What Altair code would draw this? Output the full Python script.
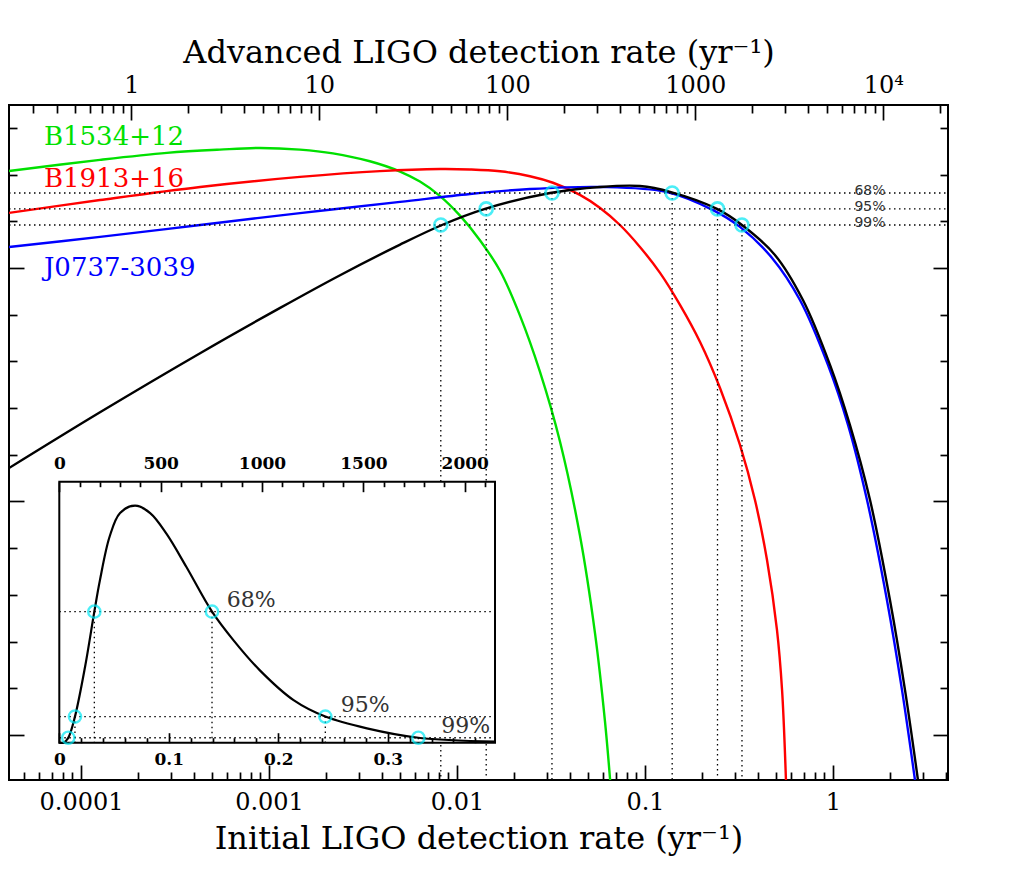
import altair as alt
import pandas as pd

# ---------------- data ----------------
# Main panel: x = initial LIGO detection rate (yr^-1), y = log-likelihood (arbitrary units)
green_rate = [4.14e-5, 1.262e-4, 2.864e-4, 5.48e-4, 8.95e-4, 1.462e-3, 2.188e-3, 3.44e-3,
              4.98e-3, 6.35e-3, 8.13e-3, 1.038e-2, 1.324e-2, 1.694e-2, 2.163e-2, 2.761e-2,
              3.532e-2, 4.508e-2, 5.42e-2, 6.12e-2, 6.59e-2]
green_logL = [2.415, 2.463, 2.493, 2.507, 2.514, 2.507, 2.491, 2.457,
              2.413, 2.370, 2.308, 2.224, 2.119, 1.988, 1.796, 1.556,
              1.256, 0.854, 0.436, 0.061, -0.236]

red_rate = [4.14e-5, 1.262e-4, 4.30e-4, 1.462e-3, 3.89e-3, 8.13e-3, 1.172e-2, 1.694e-2,
            2.443e-2, 3.24e-2, 4.508e-2, 5.77e-2, 7.36e-2, 9.40e-2, 0.1202, 0.1535, 0.1963,
            0.2506, 0.320, 0.3846, 0.4457, 0.5035, 0.5358, 0.562]
red_logL = [2.236, 2.291, 2.347, 2.390, 2.415, 2.424, 2.422, 2.414,
            2.393, 2.365, 2.313, 2.257, 2.184, 2.090, 1.979, 1.842, 1.683,
            1.486, 1.242, 1.006, 0.749, 0.450, 0.193, -0.193]

blue_rate = [4.14e-5, 1.262e-4, 4.30e-4, 1.462e-3, 4.98e-3, 1.172e-2, 2.443e-2, 5.77e-2,
             0.131, 0.230, 0.320, 0.474, 0.667, 0.940, 1.202, 1.517, 1.936, 2.328, 2.729]
blue_logL = [2.090, 2.133, 2.184, 2.235, 2.283, 2.317, 2.338, 2.347,
             2.325, 2.248, 2.176, 2.043, 1.863, 1.585, 1.328, 1.006, 0.578, 0.193, -0.193]

black_rate = [4.14e-5, 1.262e-4, 4.30e-4, 1.146e-3, 2.388e-3, 4.98e-3, 8.32e-3, 1.409e-2,
              3.126e-2, 5.77e-2, 9.40e-2, 0.1374, 0.2415, 0.328, 0.491, 0.692, 0.964, 1.230,
              1.574, 2.009, 2.415, 2.831]
black_logL = [1.143, 1.382, 1.635, 1.829, 1.969, 2.100, 2.184, 2.253,
              2.321, 2.347, 2.351, 2.325, 2.253, 2.184, 2.056, 1.863, 1.585, 1.328,
              1.006, 0.578, 0.193, -0.193]

# Confidence intervals
levels = ["68%", "95%", "99%"]
level_logL = [2.321, 2.253, 2.184]
lower_rate = [0.032, 0.0143, 0.0082]
upper_rate = [0.1395, 0.243, 0.328]
level_pdf = [0.502, 0.10, 0.019]

# Inset: probability density of the initial LIGO rate (normalised)
inset_rate = [0.0, 0.004, 0.0082, 0.0143, 0.0235, 0.032, 0.037, 0.046, 0.0555, 0.0692,
              0.083, 0.098, 0.116, 0.1395, 0.159, 0.183, 0.214, 0.243, 0.281, 0.328, 0.398]
inset_pdf = [0.0, 0.0, 0.019, 0.10, 0.29, 0.502, 0.62, 0.79, 0.88, 0.908,
             0.88, 0.80, 0.674, 0.502, 0.393, 0.278, 0.163, 0.10, 0.055, 0.019, 0.004]

pulsars = ["B1534+12", "B1913+16", "J0737-3039"]
pulsar_colors = ["#00e000", "#ff0000", "#0000ff"]
pulsar_label_rate = [6.35e-5, 6.35e-5, 6.35e-5]
pulsar_label_logL = [2.527, 2.347, 1.966]
pct_label_rate = [1.3, 1.3, 1.3]
inset_label_rate = [0.153, 0.257, 0.349]

ADV_PER_INIT = 5400.0
main_x_ticks = [1e-4, 1e-3, 1e-2, 1e-1, 1.0]
adv_x_ticks = [1.0, 10.0, 100.0, 1000.0, 10000.0]
inset_x_ticks = [0.0, 0.1, 0.2, 0.3]
inset_adv_ticks = [0, 500, 1000, 1500, 2000]

# ---------------- layout ----------------
W, H = 939, 675
X_DOMAIN = [4.14e-5, 4.09]
Y_DOMAIN = [-0.193, 2.698]
INSET_X_DOMAIN = [0.0, 0.398]
INSET_Y_DOMAIN = [0.0, 1.0]
INSET_X_RANGE = [50.3, 486.0]
INSET_Y_RANGE = [637.7, 376.7]
SERIF = "DejaVu Serif"
SANS = "DejaVu Sans"
CYAN = "#00e8f4"
INTERP = "catmull-rom"


def log_minors(lo, hi):
    out = []
    for k in range(-6, 6):
        for m in range(2, 10):
            v = m * 10.0 ** k
            if lo <= v <= hi:
                out.append(v)
    return out


def sx():
    return alt.Scale(type="log", domain=X_DOMAIN, nice=False)


def sadv():
    return alt.Scale(type="log", domain=[X_DOMAIN[0] * ADV_PER_INIT, X_DOMAIN[1] * ADV_PER_INIT], nice=False)


def sy():
    return alt.Scale(domain=Y_DOMAIN, nice=False, zero=False)


def ix():
    return alt.Scale(domain=INSET_X_DOMAIN, range=INSET_X_RANGE, nice=False, zero=False)


def iadv():
    return alt.Scale(domain=[0, INSET_X_DOMAIN[1] * ADV_PER_INIT], range=INSET_X_RANGE, nice=False, zero=False)


def iy():
    return alt.Scale(domain=INSET_Y_DOMAIN, range=INSET_Y_RANGE, nice=False, zero=False)


def neg(v):
    return alt.ExprRef(expr=str(-v))


def curve(rate, logl, color, width=2.4):
    df = pd.DataFrame({"rate": rate, "logL": logl})
    return alt.Chart(df).mark_line(color=color, strokeWidth=width, interpolate=INTERP, clip=True).encode(
        x=alt.X("rate:Q", scale=sx(), axis=None),
        y=alt.Y("logL:Q", scale=sy(), axis=None),
    )


layers = [
    curve(green_rate, green_logL, pulsar_colors[0]),
    curve(red_rate, red_logL, pulsar_colors[1]),
    curve(blue_rate, blue_logL, pulsar_colors[2]),
    curve(black_rate, black_logL, "black"),
]

DOT = [1.5, 3.5]
# horizontal dotted lines at the likelihood levels
hdf = pd.DataFrame({"x1": [X_DOMAIN[0]] * 3, "x2": [X_DOMAIN[1]] * 3, "logL": level_logL})
layers.append(alt.Chart(hdf).mark_rule(color="black", strokeWidth=1.3, strokeDash=DOT).encode(
    x=alt.X("x1:Q", scale=sx(), axis=None), x2="x2:Q",
    y=alt.Y("logL:Q", scale=sy(), axis=None)))

# vertical dotted lines from interval bounds
vdf = pd.DataFrame({"rate": lower_rate + upper_rate, "logL": level_logL + level_logL,
                    "bottom": [Y_DOMAIN[0]] * 6})
layers.append(alt.Chart(vdf).mark_rule(color="black", strokeWidth=1.3, strokeDash=DOT).encode(
    x=alt.X("rate:Q", scale=sx(), axis=None),
    y=alt.Y("logL:Q", scale=sy(), axis=None), y2="bottom:Q"))

layers.append(alt.Chart(vdf).mark_point(shape="circle", size=170, filled=False, stroke=CYAN, strokeWidth=2.6).encode(
    x=alt.X("rate:Q", scale=sx(), axis=None),
    y=alt.Y("logL:Q", scale=sy(), axis=None)))

# pulsar labels
pl = pd.DataFrame({"name": pulsars, "color": pulsar_colors, "rate": pulsar_label_rate, "logL": pulsar_label_logL})
layers.append(alt.Chart(pl).mark_text(font=SERIF, fontSize=26, align="left", baseline="alphabetic").encode(
    x=alt.X("rate:Q", scale=sx(), axis=None),
    y=alt.Y("logL:Q", scale=sy(), axis=None),
    text="name:N", color=alt.Color("color:N", scale=None)))

# percentage labels (main)
pct = pd.DataFrame({"lab": levels, "rate": pct_label_rate, "logL": level_logL})
layers.append(alt.Chart(pct).mark_text(font=SANS, fontSize=14, align="left", baseline="alphabetic", dy=2,
                                       color="#333333").encode(
    x=alt.X("rate:Q", scale=sx(), axis=None),
    y=alt.Y("logL:Q", scale=sy(), axis=None),
    text="lab:N"))

# ---------------- inset ----------------
frame = pd.DataFrame({"x1": [INSET_X_DOMAIN[0]], "x2": [INSET_X_DOMAIN[1]],
                      "y1": [INSET_Y_DOMAIN[0]], "y2": [INSET_Y_DOMAIN[1]]})
layers.append(alt.Chart(frame).mark_rect(fill="white", stroke="black", strokeWidth=2).encode(
    x=alt.X("x1:Q", scale=ix(), axis=None), x2="x2:Q",
    y=alt.Y("y1:Q", scale=iy(), axis=None), y2="y2:Q"))

ihdf = pd.DataFrame({"x1": [INSET_X_DOMAIN[0]] * 3, "x2": [INSET_X_DOMAIN[1]] * 3, "pdf": level_pdf})
layers.append(alt.Chart(ihdf).mark_rule(color="black", strokeWidth=1.3, strokeDash=DOT).encode(
    x=alt.X("x1:Q", scale=ix(), axis=None), x2="x2:Q",
    y=alt.Y("pdf:Q", scale=iy(), axis=None)))

ivdf = pd.DataFrame({"rate": lower_rate + upper_rate, "pdf": level_pdf + level_pdf, "bottom": [0.0] * 6})
layers.append(alt.Chart(ivdf).mark_rule(color="black", strokeWidth=1.3, strokeDash=DOT).encode(
    x=alt.X("rate:Q", scale=ix(), axis=None),
    y=alt.Y("pdf:Q", scale=iy(), axis=None), y2="bottom:Q"))

idf = pd.DataFrame({"rate": inset_rate, "pdf": inset_pdf})
layers.append(alt.Chart(idf).mark_line(color="black", strokeWidth=2.2, interpolate=INTERP).encode(
    x=alt.X("rate:Q", scale=ix(), axis=None),
    y=alt.Y("pdf:Q", scale=iy(), axis=None)))

layers.append(alt.Chart(ivdf).mark_point(shape="circle", size=150, filled=False, stroke=CYAN, strokeWidth=2.4).encode(
    x=alt.X("rate:Q", scale=ix(), axis=None),
    y=alt.Y("pdf:Q", scale=iy(), axis=None)))

ilab = pd.DataFrame({"lab": levels, "rate": inset_label_rate, "pdf": level_pdf})
layers.append(alt.Chart(ilab).mark_text(font=SERIF, fontSize=22, align="left", baseline="alphabetic", dy=-5,
                                        color="#333333").encode(
    x=alt.X("rate:Q", scale=ix(), axis=None),
    y=alt.Y("pdf:Q", scale=iy(), axis=None),
    text="lab:N"))


# ---------------- axes (inward ticks) ----------------
def axis_layer(xval, yval, xscale, yscale, xaxis, yaxis):
    df = pd.DataFrame({"u": [xval], "v": [yval]})
    return alt.Chart(df).mark_point(opacity=0).encode(
        x=alt.X("u:Q", scale=xscale, axis=xaxis),
        y=alt.Y("v:Q", scale=yscale, axis=yaxis))


common = dict(domain=False, grid=False, tickColor="black", tickWidth=1.7, labelColor="black",
              labelOverlap=False, labelFlush=False)
y_major = [0.0, 1.0, 2.0]
y_minor = [v / 10 for v in range(2, 27, 2) if v % 10 != 0]

ax_bottom_major = alt.Axis(orient="bottom", values=main_x_ticks, format="~g", tickSize=neg(15), labelPadding=25,
                           labelFont=SERIF, labelFontSize=24, title="Initial LIGO detection rate (yr⁻¹)",
                           titleFont=SERIF, titleFontSize=32, titleFontWeight="normal", titleColor="black",
                           titlePadding=9, **common)
ax_bottom_minor = alt.Axis(orient="bottom", values=log_minors(*X_DOMAIN), tickSize=neg(8), labels=False,
                           title=None, **common)
ax_top_major = alt.Axis(orient="top", values=adv_x_ticks,
                        labelExpr="datum.value >= 10000 ? '10⁴' : format(datum.value, '~g')",
                        tickSize=neg(15), labelPadding=23, labelFont=SERIF, labelFontSize=24,
                        title="Advanced LIGO detection rate (yr⁻¹)", titleFont=SERIF, titleFontSize=32,
                        titleFontWeight="normal", titleColor="black", titlePadding=4, **common)
ax_top_minor = alt.Axis(orient="top", values=log_minors(X_DOMAIN[0] * ADV_PER_INIT, X_DOMAIN[1] * ADV_PER_INIT),
                        tickSize=neg(8), labels=False, title=None, **common)
ax_left_major = alt.Axis(orient="left", values=y_major, tickSize=neg(15), labels=False, title=None, **common)
ax_left_minor = alt.Axis(orient="left", values=y_minor, tickSize=neg(8), labels=False, title=None, **common)
ax_right_major = alt.Axis(orient="right", values=y_major, tickSize=neg(15), labels=False, title=None, **common)
ax_right_minor = alt.Axis(orient="right", values=y_minor, tickSize=neg(8), labels=False, title=None, **common)

inset_bottom_off = INSET_Y_RANGE[0] - H
inset_top_off = -INSET_Y_RANGE[1]
ax_ib_major = alt.Axis(orient="bottom", offset=inset_bottom_off, values=inset_x_ticks, format="~g", tickSize=neg(10),
                       labelPadding=19, labelFont=SERIF, labelFontSize=17, labelFontWeight="bold", title=None,
                       zindex=1, **common)
ax_ib_minor = alt.Axis(orient="bottom", offset=inset_bottom_off,
                       values=[v / 100 for v in range(2, 40, 2) if v % 10 != 0], tickSize=neg(5), labels=False,
                       title=None, zindex=1, **common)
ax_it_major = alt.Axis(orient="top", offset=inset_top_off, values=inset_adv_ticks, format="d", tickSize=neg(10),
                       labelPadding=19, labelFont=SERIF, labelFontSize=17, labelFontWeight="bold", title=None,
                       zindex=1, **common)
ax_it_minor = alt.Axis(orient="top", offset=inset_top_off, values=[v for v in range(100, 2150, 100) if v % 500 != 0],
                       tickSize=neg(5), labels=False, title=None, zindex=1, **common)

layers += [
    axis_layer(1e-3, 1.0, sx(), sy(), ax_bottom_major, ax_left_major),
    axis_layer(1e-3, 1.0, sx(), sy(), ax_bottom_minor, ax_left_minor),
    axis_layer(10.0, 1.0, sadv(), sy(), ax_top_major, ax_right_major),
    axis_layer(10.0, 1.0, sadv(), sy(), ax_top_minor, ax_right_minor),
    axis_layer(0.1, 0.5, ix(), iy(), ax_ib_major, None),
    axis_layer(0.1, 0.5, ix(), iy(), ax_ib_minor, None),
    axis_layer(500, 0.5, iadv(), iy(), ax_it_major, None),
    axis_layer(500, 0.5, iadv(), iy(), ax_it_minor, None),
]

chart = alt.layer(*layers).resolve_scale(x="independent", y="independent").resolve_axis(
    x="independent", y="independent").properties(
    width=W, height=H,
    padding={"left": 1, "top": 97, "right": 60, "bottom": 90},
    autosize=alt.AutoSizeParams(type="none"),
    background="white",
).configure_view(stroke="black", strokeWidth=2)

chart.save("out.html", embed_options={"renderer": "svg", "actions": False})
